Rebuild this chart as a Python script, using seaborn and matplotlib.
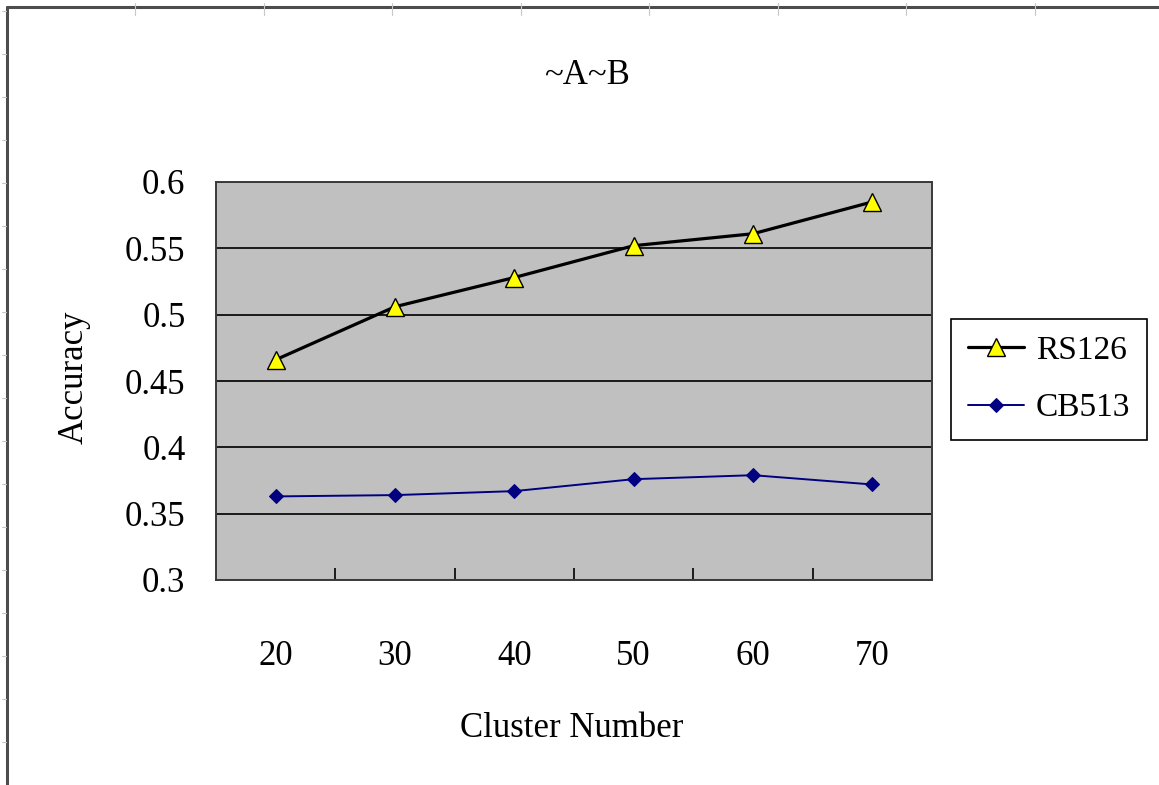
import matplotlib
matplotlib.use("Agg")
import matplotlib.pyplot as plt
import seaborn as sns
import pandas as pd
from matplotlib.lines import Line2D
from matplotlib.ticker import FixedLocator

# Accuracy per cluster number for the two datasets
cluster_numbers = ["20", "30", "40", "50", "60", "70"]
rs126_accuracy = [0.466, 0.506, 0.528, 0.552, 0.561, 0.585]
cb513_accuracy = [0.363, 0.364, 0.367, 0.376, 0.379, 0.372]

y_ticks = [0.3, 0.35, 0.4, 0.45, 0.5, 0.55, 0.6]
y_tick_labels = ["0.3", "0.35", "0.4", "0.45", "0.5", "0.55", "0.6"]

title_text = "~A~B"
x_label = "Cluster Number"
y_label = "Accuracy"

sns.set_style("white")
plt.rcParams["font.family"] = ["Liberation Serif", "DejaVu Serif"]
plt.rcParams["text.color"] = "black"
plt.rcParams["axes.labelcolor"] = "black"
plt.rcParams["xtick.color"] = "black"
plt.rcParams["ytick.color"] = "black"

W, H = 1159, 785
fig = plt.figure(figsize=(W / 100, H / 100), dpi=100)
fig.patch.set_facecolor("white")

# plot area in pixel terms
left_px, right_px, top_px, bottom_px = 216, 932, 182, 580
ax = fig.add_axes([left_px / W, 1 - bottom_px / H,
                   (right_px - left_px) / W, (bottom_px - top_px) / H])
ax.set_facecolor("#C0C0C0")

df = pd.DataFrame({
    "Cluster Number": cluster_numbers,
    "RS126": rs126_accuracy,
    "CB513": cb513_accuracy,
})

sns.lineplot(data=df, x="Cluster Number", y="RS126", ax=ax, sort=False,
             color="black", linewidth=2.3, marker="^", markersize=13,
             markerfacecolor="#FFFF00", markeredgecolor="black",
             markeredgewidth=1.0, label="RS126", zorder=4)
sns.lineplot(data=df, x="Cluster Number", y="CB513", ax=ax, sort=False,
             color="#000080", linewidth=1.4, marker="D", markersize=7,
             markerfacecolor="#000080", markeredgecolor="#000080",
             label="CB513", zorder=4)

n = len(cluster_numbers)
ax.set_xlim(-0.5, n - 0.5)
ax.set_ylim(y_ticks[0], y_ticks[-1])

# y axis: horizontal gridlines, no tick marks
ax.set_yticks(y_ticks)
ax.set_yticklabels(y_tick_labels)
ax.yaxis.grid(True, color="#1a1a1a", linewidth=1.4, zorder=1)
ax.xaxis.grid(False)
ax.set_axisbelow(True)
ax.tick_params(axis="y", length=0, pad=22, labelsize=25, labelcolor="black")

# x axis: labels at category centers, inward ticks between categories
ax.set_xticks(list(range(n)))
ax.set_xticklabels(cluster_numbers)
ax.xaxis.set_minor_locator(FixedLocator([i + 0.5 for i in range(n - 1)]))
ax.tick_params(axis="x", which="major", length=0, pad=43, labelsize=25,
               labelcolor="black")
ax.tick_params(axis="x", which="minor", direction="in", length=8.5,
               width=1.2, color="black", bottom=True)

for sp in ax.spines.values():
    sp.set_color("#3a3a3a")
    sp.set_linewidth(1.4)

ax.set_ylabel(y_label, fontsize=25, va="center", color="black")
ax.yaxis.set_label_coords(-0.198, 0.51)
ax.set_xlabel(x_label, fontsize=25, va="center", color="black")
ax.xaxis.set_label_coords(0.497, -0.372)

fig.text(587 / W, 1 - 76 / H, title_text, ha="center", va="center",
         fontsize=25, color="black")

leg = ax.legend(loc="upper left", bbox_to_anchor=(951 / W, 1 - 319 / H),
                bbox_transform=fig.transFigure, frameon=True, fancybox=False,
                edgecolor="black", facecolor="white", framealpha=1,
                fontsize=24, borderpad=0.5, handlelength=1.7,
                handletextpad=0.35, labelspacing=0.8, borderaxespad=0)
leg.get_frame().set_linewidth(1.2)
for t in leg.get_texts():
    t.set_color("black")

# outer chart-area frame along the top and left edges
bx, by = 7 / W, 1 - 7 / H
fig.add_artist(Line2D([bx, bx], [0, by], transform=fig.transFigure,
                      color="#4d4d4d", linewidth=2.2))
fig.add_artist(Line2D([bx, 1], [by, by], transform=fig.transFigure,
                      color="#4d4d4d", linewidth=2.2))
for k in range(8):
    x = (135 + 128.5 * k) / W
    fig.add_artist(Line2D([x, x], [1 - 3 / H, 1 - 15 / H],
                          transform=fig.transFigure, color="#c8c8c8",
                          linewidth=0.8))
for k in range(18):
    y = 1 - (183 + 43 * k - 43 * 4) / H
    if 0 < y < by:
        fig.add_artist(Line2D([2 / W, 6 / W], [y, y],
                              transform=fig.transFigure, color="#c8c8c8",
                              linewidth=0.8))

fig.savefig("out.png", dpi=100)
